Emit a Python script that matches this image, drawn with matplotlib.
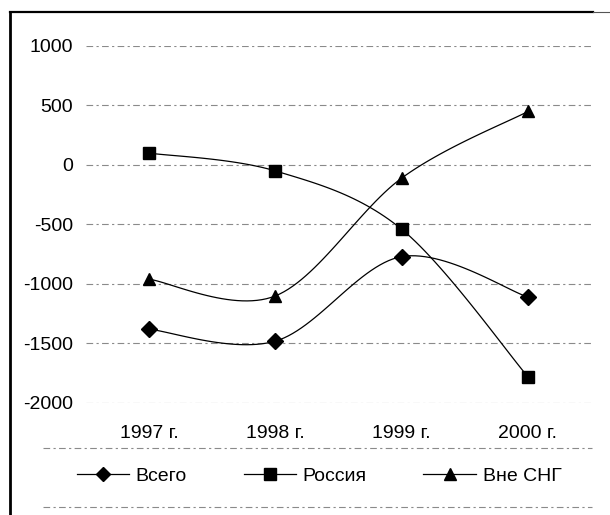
import numpy as np
import matplotlib.pyplot as plt
from matplotlib.lines import Line2D

plt.rcParams['font.family'] = ['Liberation Sans', 'DejaVu Sans']

years = ['1997 г.', '1998 г.', '1999 г.', '2000 г.']
vsego = [-1380, -1480, -770, -1110]
rossiya = [100, -50, -540, -1780]
vne_sng = [-960, -1100, -110, 450]
y_ticks = [-2000, -1500, -1000, -500, 0, 500, 1000]


def smooth(y, n=30):
    # Excel-like smoothed line (Catmull-Rom through the points)
    y = np.asarray(y, dtype=float)
    x = np.arange(len(y), dtype=float)
    px = np.concatenate([[x[0]], x, [x[-1]]])
    py = np.concatenate([[y[0]], y, [y[-1]]])
    xs, ys = [], []
    t = np.linspace(0, 1, n)
    for i in range(1, len(px) - 2):
        p0, p1, p2, p3 = [np.array([px[j], py[j]]) for j in range(i - 1, i + 3)]
        c1 = p1 + (p2 - p0) / 6
        c2 = p2 - (p3 - p1) / 6
        pts = (((1 - t) ** 3)[:, None] * p1 + (3 * (1 - t) ** 2 * t)[:, None] * c1
               + (3 * (1 - t) * t ** 2)[:, None] * c2 + (t ** 3)[:, None] * p2)
        xs.extend(pts[:, 0])
        ys.extend(pts[:, 1])
    return xs, ys


fig = plt.figure(figsize=(6.1, 5.15), dpi=100)
ax = fig.add_axes([0.141, 0.2175, 0.828, 0.6932])

grid_ls = (0, (6, 3, 2, 3))
for v in y_ticks:
    ax.axhline(v, color='#8a8a8a', lw=0.8, ls=grid_ls, zorder=0)

series = [(vsego, 'D', 'Всего', 8), (rossiya, 's', 'Россия', 9), (vne_sng, '^', 'Вне СНГ', 9)]
x = np.arange(len(years))
handles = []
for vals, m, name, ms in series:
    sx, sy = smooth(vals)
    ax.plot(sx, sy, color='black', lw=0.9, zorder=2)
    ax.plot(x, vals, ls='none', marker=m, color='black', ms=ms, zorder=3)
    handles.append(Line2D([], [], color='black', lw=0.9, marker=m, ms=ms - 1, label=name))

ax.set_xlim(-0.5, 3.5)
ax.set_ylim(-2000, 1000)
ax.set_yticks(y_ticks)
ax.set_yticklabels([str(v) for v in y_ticks])
ax.set_xticks(x)
ax.set_xticklabels(years)
ax.tick_params(length=0, labelsize=14, colors='black')
ax.tick_params(axis='x', pad=16)
ax.tick_params(axis='y', pad=9.5)
for s in ax.spines.values():
    s.set_visible(False)

fig.legend(handles=handles, loc='center', bbox_to_anchor=(0.523, 0.0757), ncol=3,
           frameon=False, fontsize=14, handlelength=2.7, columnspacing=2.9,
           handletextpad=0.35, borderpad=0, borderaxespad=0)

# outer frame and legend box lines
fig.add_artist(Line2D([0.016, 0.016], [0, 0.977], color='black', lw=2))
fig.add_artist(Line2D([0.016, 0.972], [0.977, 0.977], color='black', lw=1.6))
fig.add_artist(Line2D([0.972, 1.0], [0.977, 0.977], color='#555555', lw=0.8))
fig.add_artist(Line2D([0.07, 0.97], [0.130, 0.130], color='#8a8a8a', lw=0.8, ls=grid_ls))
fig.add_artist(Line2D([0.07, 0.97], [0.0155, 0.0155], color='#8a8a8a', lw=0.8, ls=grid_ls))

fig.savefig('out.png', dpi=100)
